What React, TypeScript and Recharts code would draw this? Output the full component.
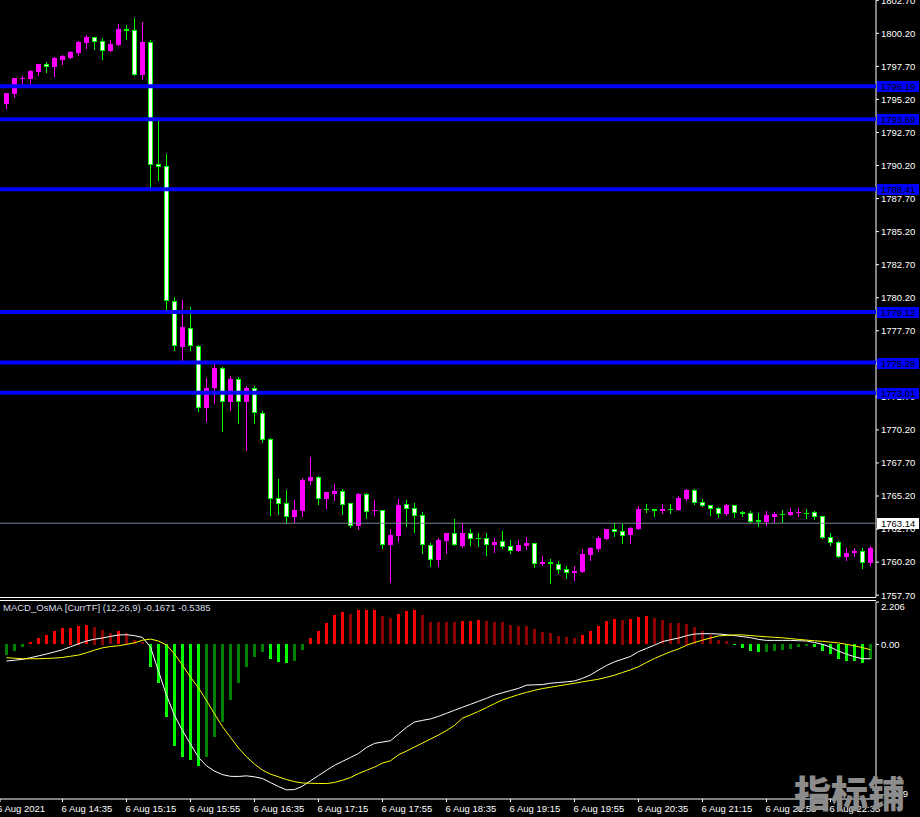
import React from 'react';
import { ComposedChart, Bar, Line, XAxis, YAxis, ReferenceLine } from 'recharts';

const FONT = '"Liberation Sans", Arial, sans-serif';

// XAUUSD M5, bar 0 = 6 Aug 14:00
const opens = [
  1794.88, 1795.63, 1796.8, 1796.74, 1797.27, 1797.88, 1797.65, 1798.18, 1798.33, 1798.71,
  1799.47, 1799.92, 1799.62, 1798.86, 1799.32, 1800.49, 1800.45, 1797.05, 1799.54, 1790.31,
  1790.16, 1779.95, 1776.47, 1777.91, 1776.55, 1771.86, 1773.37, 1774.88, 1772.31, 1774.05,
  1772.31, 1773.37, 1771.48, 1769.51, 1765.05, 1764.67, 1763.61, 1764.07, 1766.34, 1766.64,
  1764.98, 1765.35, 1765.58, 1764.67, 1762.93, 1765.35, 1764.03, 1764.14, 1761.5, 1762.18,
  1764.6, 1764.29, 1763.77, 1761.5, 1760.36, 1761.8, 1762.4, 1761.42, 1762.4, 1762.06,
  1762.03, 1761.5, 1761.8, 1761.42, 1761.04, 1761.42, 1761.65, 1760.06, 1760.21, 1760.06,
  1759.68, 1759.38, 1759.45, 1760.74, 1761.19, 1761.95, 1762.71, 1762.56, 1762.25, 1762.71,
  1764.22, 1764.22, 1764.07, 1764.24, 1764.14, 1764.98, 1765.66, 1764.75, 1764.52, 1764.29,
  1763.84, 1764.52, 1763.99, 1763.92, 1763.35, 1763.24, 1763.61, 1763.86, 1763.77, 1763.92,
  1763.95, 1763.99, 1763.69, 1762.1, 1761.72, 1760.59, 1760.89, 1761.04, 1760.14,
];
const highs = [
  1795.7, 1796.85, 1796.97, 1797.43, 1797.9, 1798.03, 1798.41, 1798.56, 1798.86, 1799.62,
  1800.07, 1799.94, 1799.85, 1799.69, 1800.9, 1800.83, 1801.36, 1801.06, 1799.69, 1793.57,
  1791.07, 1780.26, 1780.03, 1779.5, 1776.6, 1774.13, 1775.19, 1774.96, 1774.28, 1774.2,
  1773.52, 1773.52, 1771.63, 1769.55, 1766.49, 1765.66, 1764.9, 1766.56, 1768.15, 1766.72,
  1765.53, 1766.11, 1765.73, 1764.7, 1765.43, 1765.43, 1764.9, 1764.16, 1762.71, 1764.98,
  1764.9, 1764.67, 1763.99, 1761.65, 1762.03, 1762.42, 1763.46, 1763.16, 1762.71, 1762.4,
  1762.4, 1762.03, 1762.56, 1761.87, 1761.87, 1762.1, 1761.67, 1760.66, 1760.44, 1760.29,
  1759.91, 1759.91, 1761.19, 1761.35, 1762.18, 1762.73, 1763.16, 1763.09, 1762.86, 1764.45,
  1764.6, 1764.24, 1764.6, 1764.6, 1765.2, 1765.73, 1765.73, 1764.98, 1764.54, 1764.37,
  1764.6, 1764.54, 1764.07, 1764.07, 1763.92, 1764.07, 1763.99, 1764.14, 1764.29, 1764.29,
  1764.22, 1764.07, 1763.71, 1762.4, 1761.8, 1761.27, 1761.27, 1761.27, 1761.42,
];
const lows = [
  1794.57, 1795.41, 1796.29, 1796.37, 1797.05, 1797.27, 1796.97, 1797.88, 1798.31, 1798.56,
  1799.09, 1799.01, 1798.26, 1798.84, 1799.3, 1799.77, 1797.03, 1796.74, 1788.58, 1789.1,
  1779.35, 1776.25, 1775.49, 1776.25, 1771.63, 1770.88, 1772.24, 1770.12, 1771.71, 1770.72,
  1768.68, 1770.72, 1769.29, 1763.77, 1763.84, 1763.16, 1763.24, 1763.69, 1766.11, 1764.6,
  1764.29, 1764.9, 1763.84, 1762.86, 1762.71, 1763.54, 1763.77, 1761.27, 1758.7, 1761.8,
  1762.93, 1762.48, 1760.89, 1759.91, 1759.91, 1760.89, 1761.48, 1761.35, 1761.5, 1761.42,
  1760.74, 1760.97, 1761.27, 1760.89, 1761.02, 1761.19, 1759.83, 1759.98, 1758.62, 1759.38,
  1759.0, 1758.85, 1759.43, 1760.36, 1761.04, 1761.93, 1762.18, 1761.65, 1761.65, 1762.69,
  1763.99, 1763.69, 1763.92, 1763.92, 1764.12, 1764.9, 1764.6, 1764.43, 1763.77, 1763.61,
  1763.77, 1763.61, 1763.69, 1763.22, 1762.93, 1763.01, 1763.24, 1763.24, 1763.75, 1763.69,
  1763.54, 1763.46, 1762.01, 1761.5, 1760.57, 1760.36, 1760.66, 1759.76, 1759.98,
];
const closes = [
  1795.69, 1796.82, 1796.84, 1797.35, 1797.88, 1797.67, 1798.33, 1798.48, 1798.79, 1799.54,
  1799.92, 1799.54, 1798.86, 1799.39, 1800.53, 1800.41, 1797.05, 1799.54, 1790.24, 1790.11,
  1779.95, 1776.55, 1777.99, 1776.55, 1771.86, 1773.37, 1774.88, 1772.31, 1774.05, 1772.31,
  1773.37, 1771.48, 1769.44, 1764.98, 1764.6, 1763.61, 1764.14, 1766.41, 1766.64, 1764.98,
  1765.51, 1765.58, 1764.52, 1762.93, 1765.35, 1763.99, 1764.11, 1761.5, 1762.25, 1764.52,
  1764.22, 1763.69, 1761.5, 1760.36, 1761.87, 1762.4, 1761.5, 1762.4, 1761.95, 1761.99,
  1761.5, 1761.72, 1761.35, 1761.04, 1761.5, 1761.65, 1760.06, 1760.21, 1760.06, 1759.61,
  1759.38, 1759.53, 1760.81, 1761.27, 1762.03, 1762.71, 1762.48, 1762.18, 1762.78, 1764.22,
  1764.14, 1764.07, 1764.22, 1764.2, 1765.05, 1765.66, 1764.67, 1764.45, 1764.22, 1763.84,
  1764.52, 1763.92, 1763.84, 1763.24, 1763.27, 1763.77, 1763.84, 1763.82, 1763.99, 1763.99,
  1763.9, 1763.61, 1762.03, 1761.65, 1760.59, 1760.89, 1761.04, 1760.14, 1761.27,
];

// MACD_OsMA (12,26,9)
const osma = [
  -0.574, -0.365, -0.157, 0.104, 0.313, 0.47, 0.678, 0.835, 0.861, 0.976,
  0.991, 0.923, 0.767, 0.574, 0.678, 0.61, 0.209, 0.12, -1.2, -2.019,
  -3.793, -5.321, -5.88, -6.015, -6.349, -5.88, -4.836, -4.054, -2.922, -2.05,
  -1.184, -0.663, -0.417, -0.783, -0.923, -1.007, -0.887, -0.313, 0.313, 0.678,
  1.096, 1.513, 1.669, 1.565, 1.774, 1.78, 1.79, 1.461, 1.356, 1.565,
  1.722, 1.774, 1.513, 1.17, 1.16, 1.15, 1.14, 1.2, 1.21, 1.252,
  1.2, 1.19, 1.148, 0.991, 0.98, 0.97, 0.783, 0.626, 0.574, 0.417,
  0.365, 0.313, 0.47, 0.678, 0.939, 1.2, 1.304, 1.29, 1.31, 1.409,
  1.461, 1.356, 1.252, 1.096, 1.09, 1.08, 0.887, 0.678, 0.47, 0.209,
  0.157, -0.052, -0.209, -0.365, -0.417, -0.4, -0.365, -0.313, -0.261, -0.157,
  -0.104, -0.157, -0.365, -0.522, -0.783, -0.887, -0.9, -0.991, -0.783,
];
const macdMain = [
  -0.861, -0.824, -0.777, -0.689, -0.595, -0.496, -0.391, -0.277, -0.125, 0.031,
  0.177, 0.271, 0.334, 0.417, 0.49, 0.506, 0.454, 0.365, -0.141, -1.393,
  -2.645, -3.689, -4.487, -5.18, -5.879, -6.313, -6.589, -6.772, -6.86, -6.866,
  -6.834, -6.886, -6.975, -7.184, -7.392, -7.565, -7.549, -7.372, -7.095, -6.819,
  -6.547, -6.286, -6.083, -5.88, -5.671, -5.358, -5.149, -5.076, -5.008, -4.659,
  -4.314, -4.033, -3.949, -3.876, -3.741, -3.584, -3.422, -3.266, -3.115, -2.958,
  -2.802, -2.635, -2.515, -2.4, -2.285, -2.118, -2.102, -2.087, -2.019, -1.982,
  -1.946, -1.899, -1.763, -1.581, -1.336, -1.096, -0.903, -0.767, -0.626, -0.376,
  -0.209, -0.037, 0.146, 0.245, 0.329, 0.454, 0.537, 0.558, 0.558, 0.543,
  0.506, 0.459, 0.407, 0.35, 0.261, 0.209, 0.209, 0.209, 0.209, 0.193,
  0.177, 0.099, 0.005, -0.141, -0.35, -0.506, -0.642, -0.746, -0.746,
];
const macdSignal = [
  -0.689, -0.72, -0.746, -0.746, -0.746, -0.73, -0.71, -0.678, -0.616, -0.553,
  -0.433, -0.297, -0.177, -0.11, -0.068, 0, 0.083, 0.219, 0.277, 0.177,
  -0.031, -0.496, -1.08, -1.706, -2.259, -2.922, -3.615, -4.278, -4.836, -5.389,
  -5.843, -6.224, -6.537, -6.746, -6.886, -7.027, -7.137, -7.205, -7.22, -7.231,
  -7.236, -7.179, -7.064, -6.923, -6.714, -6.547, -6.38, -6.172, -6.052, -5.739,
  -5.546, -5.337, -5.128, -4.92, -4.711, -4.476, -4.215, -3.834, -3.662, -3.485,
  -3.287, -3.078, -2.885, -2.749, -2.609, -2.494, -2.389, -2.295, -2.228, -2.155,
  -2.087, -2.019, -1.946, -1.878, -1.81, -1.711, -1.602, -1.461, -1.32, -1.158,
  -0.939, -0.73, -0.553, -0.381, -0.235, -0.047, 0.099, 0.224, 0.334, 0.443,
  0.464, 0.496, 0.496, 0.459, 0.428, 0.396, 0.37, 0.344, 0.303, 0.261,
  0.224, 0.188, 0.162, 0.12, 0.078, 0.005, -0.078, -0.167, -0.277,
];

const priceTicks = [
  1802.7, 1800.2, 1797.7, 1795.2, 1792.7, 1790.2, 1787.7, 1785.2, 1782.7, 1780.2,
  1777.7, 1775.2, 1772.7, 1770.2, 1767.7, 1765.2, 1762.7, 1760.2, 1757.7,
];
const levels = [1796.19, 1793.69, 1788.41, 1779.12, 1775.29, 1773.01];
const markPrice = 1763.14;

const X_DOMAIN: [number, number] = [-0.8125, 108.6875];
const PRICE_DOMAIN: [number, number] = [1757.56, 1802.72];
const MACD_DOMAIN: [number, number] = [-8.039, 2.206];
const macdTicks = [2.206, 0, -8.039];

const timeTicks = [X_DOMAIN[0], 7, 15, 23, 31, 39, 47, 55, 63, 71, 79, 87, 95, 103];
const timeLabels = [
  '6 Aug 2021', '6 Aug 14:35', '6 Aug 15:15', '6 Aug 15:55', '6 Aug 16:35', '6 Aug 17:15',
  '6 Aug 17:55', '6 Aug 18:35', '6 Aug 19:15', '6 Aug 19:55', '6 Aug 20:35', '6 Aug 21:15',
  '6 Aug 21:55', '6 Aug 22:35',
];

const candles = opens.map((o, i) => ({
  i,
  o,
  h: highs[i],
  l: lows[i],
  c: closes[i],
  range: [lows[i], highs[i]],
}));

const macdData = osma.map((v, i) => {
  const prev = i === 0 ? v : osma[i - 1];
  const rising = v >= prev;
  const color = v >= 0 ? (rising ? '#FF0000' : '#8B0000') : rising ? '#008000' : '#00FF00';
  return { i, osma: v, macd: macdMain[i], signal: macdSignal[i], color };
});

const Candle = (props: any) => {
  const { x, y, width, height, payload } = props;
  if (x == null || y == null || !payload) return null;
  const { o, h, l, c } = payload;
  const top = Math.min(y, y + height);
  const k = h > l ? Math.abs(height) / (h - l) : 0;
  const py = (v: number) => top + (h - v) * k;
  const col = Math.floor(x + width / 2);
  const bull = c > o;
  const color = bull ? '#FF00FF' : '#00FF00';
  const yHi = Math.round(py(h));
  const yLo = Math.round(py(l));
  const yTop = Math.round(py(Math.max(o, c)));
  const yBot = Math.round(py(Math.min(o, c)));
  const bodyH = yBot - yTop;
  return (
    <g shapeRendering="crispEdges">
      <line x1={col + 0.5} x2={col + 0.5} y1={yHi} y2={yLo + 1} stroke={color} />
      {bodyH < 2 || bull ? (
        <rect x={col - 2} y={yTop} width={5} height={Math.max(bodyH, 1)} fill={color} />
      ) : (
        <rect x={col - 1.5} y={yTop + 0.5} width={4} height={bodyH - 1} fill="#FFFFFF" stroke={color} />
      )}
    </g>
  );
};

const OsmaBar = (props: any) => {
  const { x, y, width, height, payload } = props;
  if (x == null || y == null || !payload) return null;
  const col = Math.floor(x + width / 2);
  const top = Math.min(y, y + height);
  return (
    <rect
      x={col - 1}
      y={Math.round(top)}
      width={3}
      height={Math.max(Math.round(Math.abs(height)), 1)}
      fill={payload.color}
      shapeRendering="crispEdges"
    />
  );
};

const LevelTag = (props: any) => {
  const { viewBox, text, bg } = props;
  if (!viewBox) return null;
  const x0 = viewBox.x + viewBox.width + 1;
  const yc = Math.round(viewBox.y);
  return (
    <g>
      <rect x={x0} y={yc - 5} width={42} height={11} fill={bg} />
      <text x={x0 + 4} y={yc + 4} fill="#000000" fontSize={9.5} fontFamily={FONT}>
        {text}
      </text>
    </g>
  );
};

const MacdTick = (props: any) => {
  const { x, y, payload } = props;
  const v = payload.value;
  const shift = v === MACD_DOMAIN[1] ? 5 : v === MACD_DOMAIN[0] ? -5 : 0;
  const label = v === 0 ? '0.00' : v.toFixed(3);
  return (
    <text x={x} y={y + shift} dy="0.355em" fill="#FFFFFF" fontSize={9.5} fontFamily={FONT}>
      {label}
    </text>
  );
};

const TimeTick = (props: any) => {
  const { x, y, payload } = props;
  const idx = timeTicks.indexOf(payload.value);
  if (idx < 0) return null;
  return (
    <text x={x - (idx === 0 ? 3 : 1)} y={y + 8} fill="#FFFFFF" fontSize={9.5} fontFamily={FONT}>
      {timeLabels[idx]}
    </text>
  );
};

// plot area is 0..597, a few extra px below so the lowest price label is not cut
const mainMargin = { top: 0, right: 0, bottom: 4, left: 0 };

export default function App() {
  return (
    <div
      style={{
        position: 'absolute',
        left: 0,
        top: 0,
        width: 920,
        height: 817,
        background: '#000000',
        overflow: 'hidden',
        fontFamily: FONT,
      }}
    >
      <div style={{ position: 'absolute', left: 0, top: 0 }}>
        <ComposedChart width={920} height={601} data={candles} margin={mainMargin}>
          <XAxis type="number" dataKey="i" domain={X_DOMAIN} allowDataOverflow hide />
          <YAxis
            orientation="right"
            width={44}
            domain={PRICE_DOMAIN}
            allowDataOverflow
            ticks={priceTicks}
            interval={0}
            tickFormatter={(v: number) => v.toFixed(2)}
            tick={{ fill: '#FFFFFF', fontSize: 9.5, fontFamily: FONT }}
            tickSize={3}
            tickMargin={2}
            tickLine={{ stroke: '#FFFFFF' }}
            axisLine={{ stroke: '#FFFFFF' }}
          />
          <Bar dataKey="range" barSize={5} shape={<Candle />} isAnimationActive={false} />
        </ComposedChart>
      </div>
      {/* horizontal levels on top of candles and axis labels */}
      <div style={{ position: 'absolute', left: 0, top: 0 }}>
        <ComposedChart width={920} height={601} data={candles} margin={mainMargin}>
          <XAxis type="number" dataKey="i" domain={X_DOMAIN} allowDataOverflow hide />
          <YAxis
            orientation="right"
            width={44}
            domain={PRICE_DOMAIN}
            allowDataOverflow
            tick={false}
            tickLine={false}
            axisLine={false}
          />
          {levels.map((v) => (
            <ReferenceLine
              key={v}
              y={v}
              stroke="#0000FF"
              strokeWidth={4}
              label={<LevelTag text={v.toFixed(2)} bg="#0000FF" />}
            />
          ))}
          <ReferenceLine
            y={markPrice}
            stroke="#778899"
            strokeWidth={1}
            label={<LevelTag text={markPrice.toFixed(2)} bg="#FFFFFF" />}
          />
        </ComposedChart>
      </div>
      <div style={{ position: 'absolute', left: 0, top: 597, width: 876, height: 1, background: '#FFFFFF' }} />
      <div style={{ position: 'absolute', left: 0, top: 600, width: 876, height: 1, background: '#FFFFFF' }} />
      <div style={{ position: 'absolute', left: 0, top: 600 }}>
        <ComposedChart width={920} height={217} data={macdData} margin={{ top: 2, right: 0, bottom: 0, left: 0 }}>
          <XAxis
            type="number"
            dataKey="i"
            domain={X_DOMAIN}
            allowDataOverflow
            ticks={timeTicks}
            interval={0}
            height={18}
            tickSize={3}
            tickLine={{ stroke: '#FFFFFF' }}
            axisLine={{ stroke: '#FFFFFF' }}
            tick={<TimeTick />}
          />
          <YAxis
            orientation="right"
            width={44}
            domain={MACD_DOMAIN}
            allowDataOverflow
            ticks={macdTicks}
            interval={0}
            tickSize={3}
            tickMargin={2}
            tickLine={{ stroke: '#FFFFFF' }}
            axisLine={{ stroke: '#FFFFFF' }}
            tick={<MacdTick />}
          />
          <Bar dataKey="osma" barSize={3} shape={<OsmaBar />} isAnimationActive={false} />
          <Line type="linear" dataKey="macd" stroke="#FFFFFF" strokeWidth={1} dot={false} isAnimationActive={false} />
          <Line type="linear" dataKey="signal" stroke="#FFFF00" strokeWidth={1} dot={false} isAnimationActive={false} />
        </ComposedChart>
      </div>
      <div
        style={{
          position: 'absolute',
          left: 3,
          top: 602,
          fontSize: 9.5,
          color: '#D8DEE8',
          whiteSpace: 'nowrap',
          lineHeight: '12px',
        }}
      >
        MACD_OsMA [CurrTF] (12,26,9) -0.1671 -0.5385
      </div>
      <div
        style={{
          position: 'absolute',
          left: 794,
          top: 769,
          fontSize: 37,
          fontWeight: 900,
          color: '#8C8C8C',
          fontFamily: '"Noto Sans CJK SC", sans-serif',
          lineHeight: '46px',
          whiteSpace: 'nowrap',
        }}
      >
        指标铺
      </div>
    </div>
  );
}
